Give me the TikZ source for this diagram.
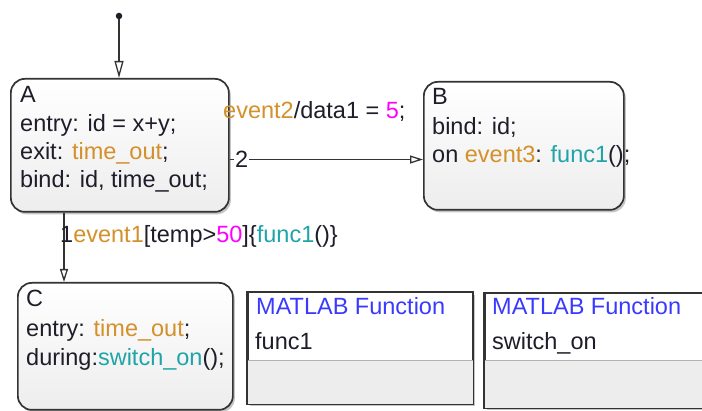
\documentclass[tikz,border=0pt]{standalone}
\usepackage{fontspec}
\setmainfont{Liberation Sans}
\usetikzlibrary{arrows.meta,shadows}
\definecolor{ink}{HTML}{1E1E2A}
\definecolor{evt}{HTML}{D4902A}
\definecolor{num}{HTML}{FF00FF}
\definecolor{fun}{HTML}{1FA5A8}
\definecolor{ttl}{HTML}{3A3AFF}
\definecolor{edgec}{HTML}{333333}
\definecolor{compc}{HTML}{EDEDED}
\newcommand{\evt}[1]{\textcolor{evt}{#1}}
\newcommand{\nmb}[1]{\textcolor{num}{#1}}
\newcommand{\fnc}[1]{\textcolor{fun}{#1}}
\begin{document}
\begin{tikzpicture}[x=1pt,y=-1pt,
  font=\fontsize{23.5}{28.5}\selectfont,
  statebox/.style={draw=edgec, line width=1.7pt, rounded corners=14pt,
    top color=white, bottom color=compc,
    drop shadow={opacity=0.45, shadow xshift=2pt, shadow yshift=-2.5pt},
    anchor=north west, inner sep=0pt},
  funbox/.style={draw=edgec, line width=1.5pt, fill=white,
    drop shadow={opacity=0.45, shadow xshift=2pt, shadow yshift=-2.5pt},
    anchor=north west, inner sep=0pt},
  lbl/.style={anchor=base west, inner sep=0pt, text=ink},
  trans/.style={draw=edgec, line width=1.4pt,
    -{Triangle[open, length=13pt, width=8pt, line width=1.3pt]}}]
\useasboundingbox (0,0) rectangle (702,411);
\fill[white] (0,0) rectangle (702,411);

% states
\node[statebox, minimum width=218pt, minimum height=133pt] (A) at (10,78) {};
\node[statebox, minimum width=200pt, minimum height=128pt] (B) at (423,81) {};
\node[statebox, minimum width=215pt, minimum height=127pt] (C) at (17,282) {};

% function boxes
\node[funbox, minimum width=225pt, minimum height=111pt] (F1) at (247,292) {};
\node[funbox, minimum width=240pt, minimum height=114pt] (F2) at (484,293) {};
\coordinate (sep) at (0,361);
\fill[compc] (F1.west |- sep) rectangle (F1.south east);
\fill[compc] (F2.west |- sep) rectangle (F2.south east);
\draw[gray!60, line width=1pt] (F1.west |- sep) -- (F1.east |- sep);
\draw[gray!60, line width=1pt] (F2.west |- sep) -- (F2.east |- sep);
\draw[edgec, line width=1.5pt] (F1.north west) rectangle (F1.south east);
\draw[edgec, line width=1.5pt] (F2.north west) rectangle (F2.south east);

% state texts
\node[lbl] (Aname) at (20,103) {A};
\node[lbl] (Aen) at (20,131.5) {entry: id = x+y;};
\node[lbl] (Aex) at (20,159.5) {exit: \evt{time\_out};};
\node[lbl] (Abi) at (20,188) {bind: id, time\_out;};

\node[lbl] (Bname) at (432,105) {B};
\node[lbl] (Bbi) at (432,134.5) {bind: id;};
\node[lbl] (Bon) at (432,163) {on \evt{event3}: \fnc{func1}();};

\node[lbl] (Cname) at (26,307) {C};
\node[lbl] (Cen) at (26,337) {entry: \evt{time\_out};};
\node[lbl] (Cdu) at (26,365.5) {during:\fnc{switch\_on}();};

\node[lbl, text=ttl] (F1t) at (256,315) {MATLAB Function};
\node[lbl] (F1n) at (255,350) {func1};
\node[lbl, text=ttl] (F2t) at (492,315) {MATLAB Function};
\node[lbl] (F2n) at (492,350) {switch\_on};

% initial transition
\node[circle, fill=ink, inner sep=0pt, minimum size=6.5pt] (init) at (119,16) {};
\draw[trans, -{Triangle[open, length=17pt, width=9pt, line width=1.3pt]}] (init) -- (A.north -| init);

% A -> B
\coordinate (y2) at (0,159.5);
\draw[trans] (A.east |- y2) -- node[pos=0.062, fill=white, inner sep=1pt, text=ink] (two) {2} (B.west |- y2);
\node[lbl] (t2lab) at (223,119) {\evt{event2}/data1 = \nmb{5};};

% A -> C
\coordinate (xc) at (64,0);
\draw[trans] (A.south -| xc) -- (C.north -| xc);
\node[lbl] (t1lab) at (60,243) {1\evt{event1}[temp>\nmb{50}]\{\fnc{func1}()\}};
\end{tikzpicture}
\end{document}
